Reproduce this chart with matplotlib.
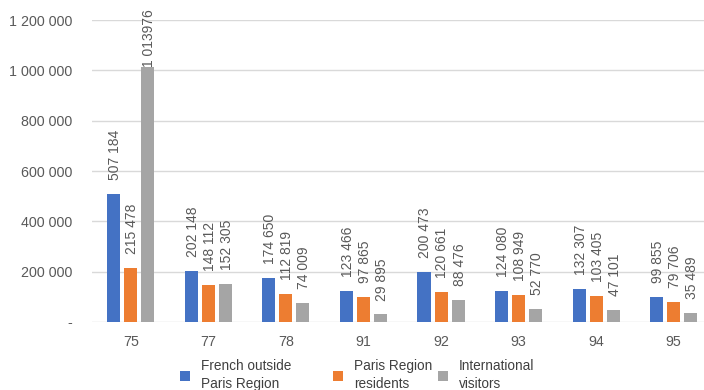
import matplotlib
matplotlib.use("Agg")
import matplotlib.pyplot as plt
import numpy as np

categories = ["75", "77", "78", "91", "92", "93", "94", "95"]
french_outside = [507184, 202148, 174650, 123466, 200473, 124080, 132307, 99855]
paris_residents = [215478, 148112, 112819, 97865, 120661, 108949, 103405, 79706]
international = [1013976, 152305, 74009, 29895, 88476, 52770, 47101, 35489]
series_names = ["French outside\nParis Region", "Paris Region\nresidents", "International\nvisitors"]
yticks = [0, 200000, 400000, 600000, 800000, 1000000, 1200000]

colors = ["#4472C4", "#ED7D31", "#A5A5A5"]
plt.rcParams['font.family'] = ['Liberation Sans', 'DejaVu Sans']

W, H = 704, 390
fig = plt.figure(figsize=(W/100, H/100), dpi=100)
ax = fig.add_axes([92/W, (H-322)/H, (704-92)/W, (322-20)/H])

x = np.arange(len(categories))
bw = 0.168
off = 0.22
txtcol = "#595959"
handles = []
for k, (vals, c) in enumerate(zip([french_outside, paris_residents, international], colors)):
    pos = x + (k-1)*off
    b = ax.bar(pos, vals, width=bw, color=c, zorder=3, label=series_names[k])
    handles.append(b)
    for xi, v in zip(pos, vals):
        s = f"{v:,}".replace(",", " ")
        if v > 900000:
            s = s[:1] + " " + s[2:].replace(" ", "")
            ax.annotate(s, (xi, v), xytext=(1, 0), textcoords="offset points",
                        rotation=90, ha="center", va="bottom", fontsize=10, color=txtcol,
                        annotation_clip=False)
        else:
            ax.annotate(s, (xi, v), xytext=(1, 10), textcoords="offset points",
                        rotation=90, ha="center", va="bottom", fontsize=10, color=txtcol)

ax.set_xlim(-0.5, 7.39)
ax.set_ylim(0, 1200000)
ax.set_yticks(yticks)
ax.set_yticklabels(["-" if t == 0 else f"{t:,}".replace(",", " ") for t in yticks])
ax.set_xticks(x)
ax.set_xticklabels(categories)
ax.tick_params(axis="both", length=0, colors=txtcol, labelsize=10.3)
ax.tick_params(axis="y", pad=14)
ax.tick_params(axis="x", pad=9)
ax.grid(axis="y", color="#D9D9D9", linewidth=1, zorder=0)
for sp in ax.spines.values():
    sp.set_visible(False)

leg_x = [180, 333, 438]
for h, name, lx in zip(handles, series_names, leg_x):
    lg = fig.legend(handles=[h], labels=[name], loc="center left",
                    bbox_to_anchor=(lx/W, (H-375)/H), frameon=False,
                    fontsize=9.8, handlelength=0.7, handleheight=0.7,
                    handletextpad=0.85, borderpad=0, borderaxespad=0,
                    labelcolor="#404040")
    for t in lg.get_texts():
        t.set_linespacing(1.3)

fig.savefig("out.png", dpi=100)
